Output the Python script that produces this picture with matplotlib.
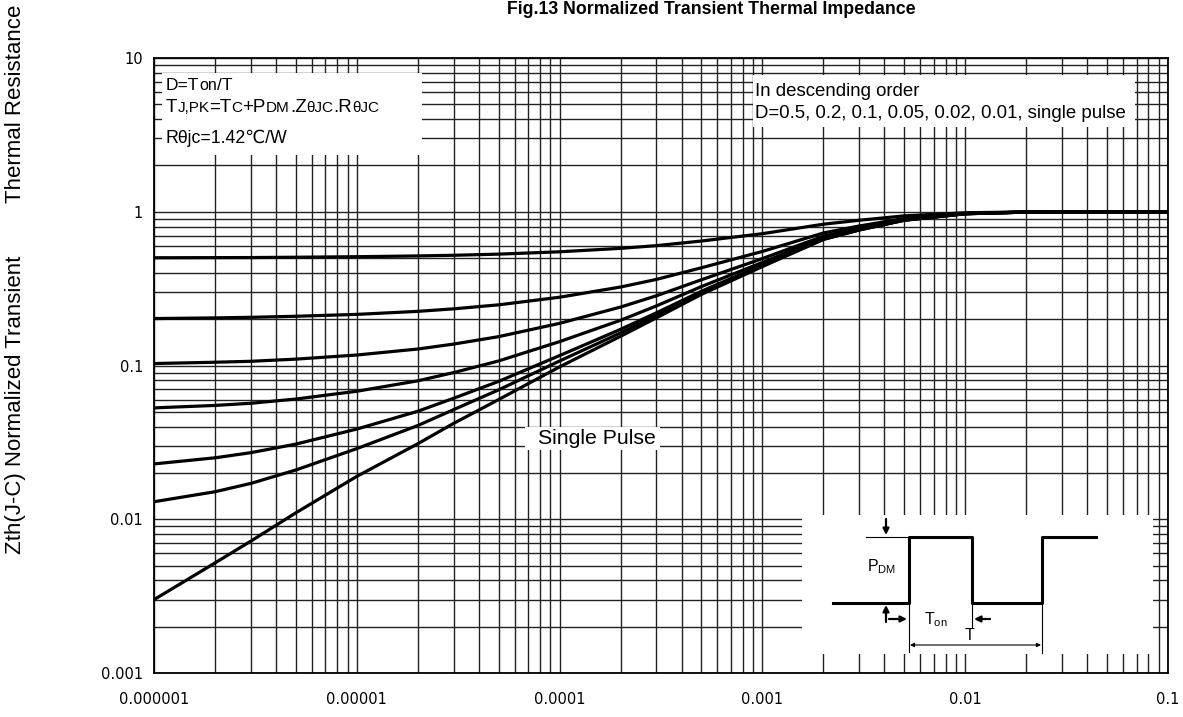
import matplotlib
matplotlib.use("Agg")
import matplotlib.pyplot as plt
from matplotlib.patches import Rectangle
from matplotlib.ticker import NullFormatter
from matplotlib.offsetbox import TextArea, HPacker, AnnotationBbox

# pulse width (s)
t = [1e-6, 2e-6, 3e-6, 5e-6, 1e-5, 2e-5, 3e-5, 5e-5, 1e-4, 2e-4, 3e-4, 5e-4,
     1e-3, 2e-3, 3e-3, 5e-3, 1e-2, 2e-2, 3e-2, 5e-2, 1e-1]

# normalized Zth, D = 0.5 ... single pulse
z_d50 = [0.502, 0.503, 0.5036, 0.506, 0.51, 0.516, 0.521, 0.53, 0.549, 0.578, 0.602, 0.645,
         0.72, 0.83, 0.88, 0.94, 0.985, 0.998, 0.9995, 1.0, 1.0]
z_d20 = [0.202, 0.204, 0.2058, 0.209, 0.215, 0.225, 0.2336, 0.248, 0.278, 0.324, 0.363, 0.432,
         0.552, 0.728, 0.808, 0.904, 0.976, 0.996, 0.999, 1.0, 1.0]
z_d10 = [0.103, 0.105, 0.1065, 0.110, 0.117, 0.128, 0.1378, 0.154, 0.188, 0.240, 0.284, 0.361,
         0.496, 0.694, 0.784, 0.892, 0.973, 0.995, 0.999, 1.0, 1.0]
z_d05 = [0.053, 0.055, 0.0568, 0.0605, 0.068, 0.0795, 0.0899, 0.107, 0.143, 0.197, 0.244, 0.326,
         0.468, 0.677, 0.772, 0.886, 0.972, 0.995, 0.999, 1.0, 1.0]
z_d02 = [0.0229, 0.0251, 0.0271, 0.0308, 0.0386, 0.0504, 0.0612, 0.0788, 0.116, 0.172, 0.220, 0.304,
         0.451, 0.667, 0.765, 0.882, 0.971, 0.995, 0.999, 1.0, 1.0]
z_d01 = [0.013, 0.0151, 0.0171, 0.0209, 0.0288, 0.0407, 0.0516, 0.0694, 0.107, 0.163, 0.212, 0.297,
         0.446, 0.663, 0.762, 0.881, 0.970, 0.995, 0.999, 1.0, 1.0]
z_single = [0.003, 0.0052, 0.0072, 0.011, 0.019, 0.031, 0.042, 0.060, 0.098, 0.155, 0.204, 0.29,
            0.44, 0.66, 0.76, 0.88, 0.97, 0.995, 0.999, 1.0, 1.0]

x_ticks = [1e-6, 1e-5, 1e-4, 1e-3, 1e-2, 1e-1]
x_labels = ["0.000001", "0.00001", "0.0001", "0.001", "0.01", "0.1"]
y_ticks = [1e-3, 1e-2, 1e-1, 1, 10]
y_labels = ["0.001", "0.01", "0.1", "1", "10"]

FAM = ["Liberation Sans", "DejaVu Sans"]
plt.rcParams["font.family"] = FAM
plt.rcParams["mathtext.fontset"] = "custom"
plt.rcParams["mathtext.rm"] = "Liberation Sans"

W, H = 1183, 717
fig = plt.figure(figsize=(W / 100, H / 100), dpi=100)
ax = fig.add_axes([154 / W, 44 / H, 1014 / W, 615 / H])

for z in [z_d50, z_d20, z_d10, z_d05, z_d02, z_d01, z_single]:
    ax.plot(t, z, color="black", lw=2.3, zorder=3)

ax.set_xscale("log")
ax.set_yscale("log")
ax.set_xlim(1e-6, 1e-1)
ax.set_ylim(1e-3, 10)
ax.set_axisbelow(True)
ax.grid(True, which="both", color="#222222", lw=1.0)
ax.set_xticks(x_ticks)
ax.set_xticklabels(x_labels, family="DejaVu Sans", fontsize=10.5)
ax.set_yticks(y_ticks)
ax.set_yticklabels(y_labels, family="DejaVu Sans", fontsize=10.5)
ax.xaxis.set_minor_formatter(NullFormatter())
ax.yaxis.set_minor_formatter(NullFormatter())
ax.tick_params(which="both", length=0)
ax.tick_params(axis="x", pad=14)
ax.tick_params(axis="y", pad=8)
for s in ax.spines.values():
    s.set_linewidth(1.3)

# overlay in pixel units for the boxes, labels and the pulse sketch
ov = fig.add_axes([0, 0, 1, 1], zorder=5)
ov.set_xlim(0, W)
ov.set_ylim(H, 0)
ov.axis("off")
ov.patch.set_alpha(0)

ov.text(711, 10, "Fig.13 Normalized Transient Thermal Impedance",
        ha="center", va="center", fontsize=12.8, fontweight="bold")
ov.text(16, 405, "Zth(J-C) Normalized Transient", rotation=90, ha="center", va="center", fontsize=16)
ov.text(16, 104, "Thermal Resistance", rotation=90, ha="center", va="center", fontsize=16)

for (x0, y0, x1, y1) in [(162, 73, 422, 155), (753, 75, 1135, 127), (525, 427, 660, 450), (802, 515, 1153, 654)]:
    ov.add_patch(Rectangle((x0, y0), x1 - x0, y1 - y0, facecolor="white", edgecolor="none"))


def rich(x, y, parts):
    kids = [TextArea(s, textprops=dict(fontsize=fs, family=FAM)) for s, fs in parts]
    box = HPacker(children=kids, align="baseline", pad=0, sep=0)
    ab = AnnotationBbox(box, (x, y), xycoords="data", box_alignment=(0, 0.5), frameon=False, pad=0)
    ov.add_artist(ab)


rich(166, 85, [("D=T", 12.5), ("on", 11.5), ("/T", 12.5)])
rich(166, 108, [("T", 13.5), ("J,PK", 11), ("=T", 13.5), ("C", 11), ("+P", 13.5), ("DM", 11),
                (".Z", 13.5), ("θJC", 11), (".R", 13.5), ("θJC", 11)])
ov.text(166, 138, "Rθjc=1.42℃/W", fontsize=12.8, va="center", ha="left")

ov.text(755, 92, "In descending order", fontsize=13.4, va="center", ha="left")
ov.text(755, 113, "D=0.5, 0.2, 0.1, 0.05, 0.02, 0.01, single pulse", fontsize=13.4, va="center", ha="left")
ov.text(597, 438, "Single Pulse", fontsize=15.3, va="center", ha="center")

# pulse train sketch
ov.plot([833, 909, 909, 972, 972, 1042, 1042, 1096], [603, 603, 537, 537, 603, 603, 537, 537],
        color="black", lw=2.2)
ov.plot([866, 909], [537, 537], color="black", lw=0.8)
ov.plot([909, 909], [603, 652], color="black", lw=0.8)
ov.plot([972, 972], [603, 627], color="black", lw=0.8)
ov.plot([1042, 1042], [603, 653], color="black", lw=0.8)
arr = dict(arrowstyle="-|>", color="black", lw=1.6, mutation_scale=9, shrinkA=0, shrinkB=0)
ov.annotate("", xy=(886, 535), xytext=(886, 519), arrowprops=arr)
ov.annotate("", xy=(886, 605), xytext=(886, 622), arrowprops=arr)
ov.annotate("", xy=(907, 619), xytext=(889, 619), arrowprops=arr)
ov.annotate("", xy=(974, 619), xytext=(990, 619), arrowprops=arr)
ov.annotate("", xy=(1041, 645), xytext=(910, 645),
            arrowprops=dict(arrowstyle="<|-|>", color="black", lw=0.8, mutation_scale=6, shrinkA=0, shrinkB=0))
ov.text(882, 567, r"P$_\mathregular{DM}$", fontsize=11.5, ha="center", va="center")
ov.text(936, 620, r"T$_\mathregular{on}$", fontsize=11.5, ha="center", va="center")
ov.text(970, 636, "T", fontsize=11.5, ha="center", va="center")

fig.savefig("out.png", dpi=100)
